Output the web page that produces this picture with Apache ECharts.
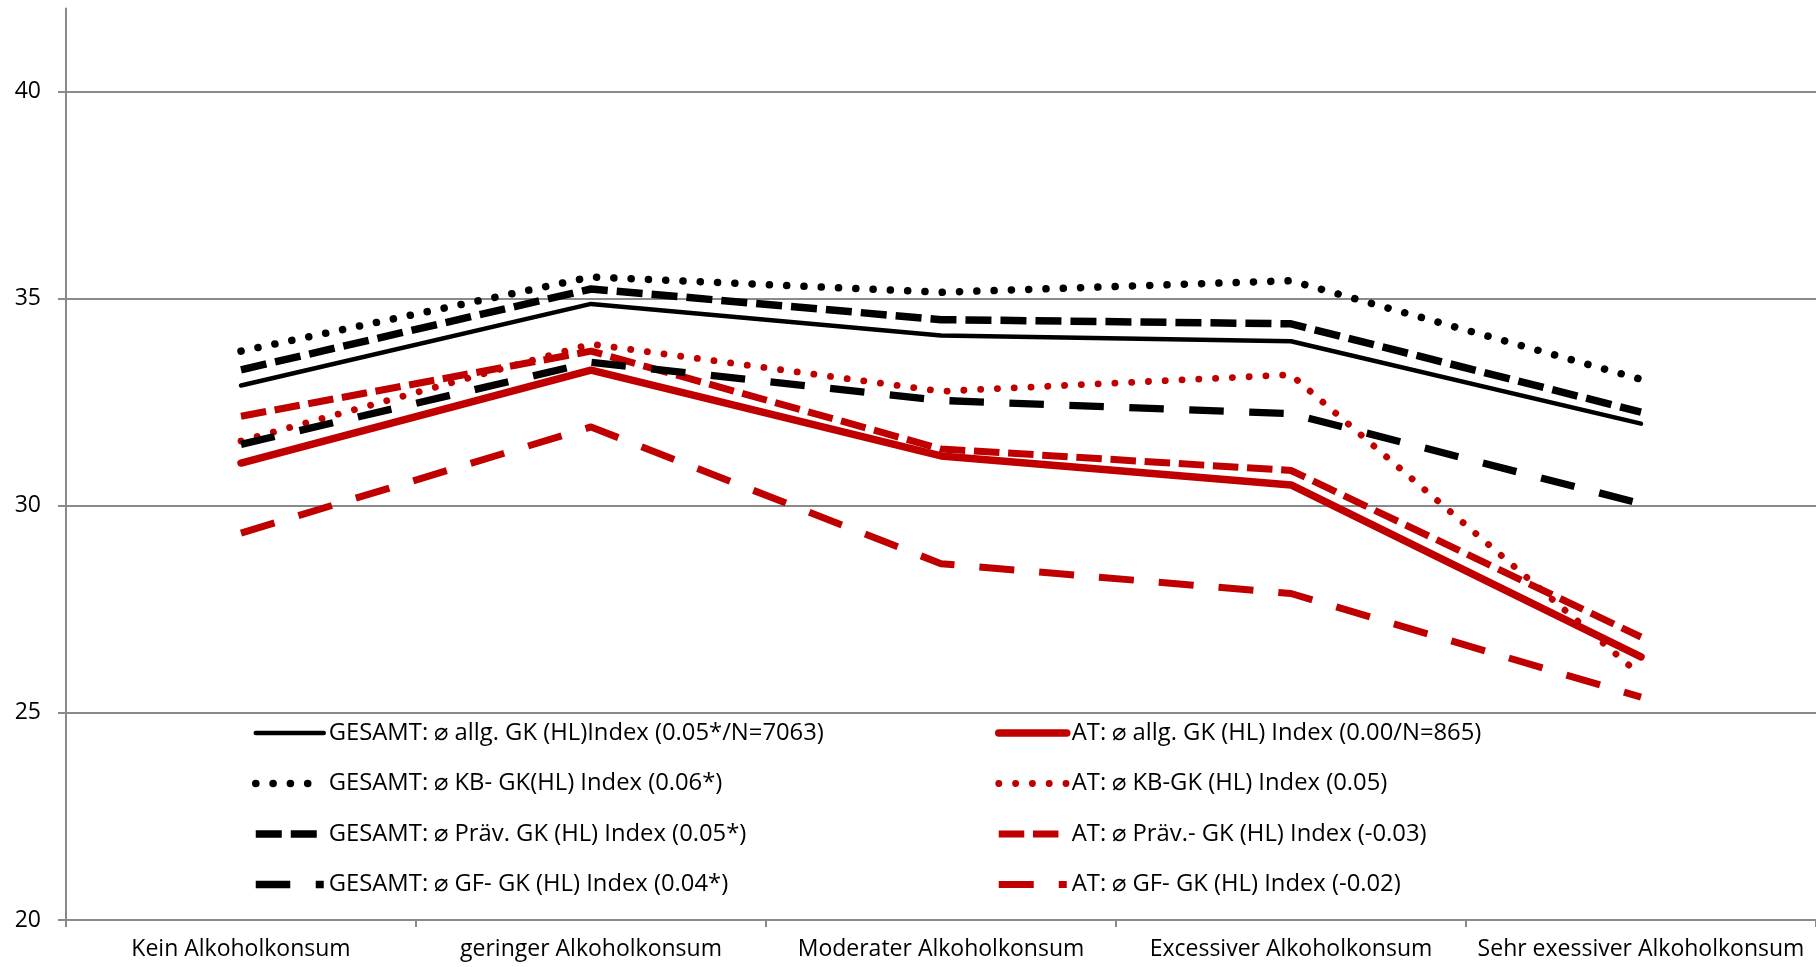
<!DOCTYPE html>
<html>
<head>
<meta charset="utf-8">
<script src="https://cdn.jsdelivr.net/npm/echarts@6.0.0/dist/echarts.min.js"></script>
<style>
html, body { margin: 0; padding: 0; background: #ffffff; }
#chart { width: 1816px; height: 967px; }
</style>
</head>
<body>
<div id="chart"></div>
<script>
// ---- data ----
const categories = ['Kein Alkoholkonsum', 'geringer Alkoholkonsum', 'Moderater Alkoholkonsum', 'Excessiver Alkoholkonsum', 'Sehr exessiver Alkoholkonsum'];

const gesamtAllg = [32.90, 34.87, 34.11, 33.97, 31.98];
const gesamtKB   = [33.73, 35.52, 35.15, 35.43, 33.05];
const gesamtPraev= [33.28, 35.23, 34.49, 34.39, 32.26];
const gesamtGF   = [31.48, 33.46, 32.54, 32.22, 30.05];
const atAllg     = [31.03, 33.27, 31.20, 30.50, 26.35];
const atKB       = [31.56, 33.90, 32.76, 33.16, 25.90];
const atPraev    = [32.16, 33.73, 31.37, 30.85, 26.83];
const atGF       = [29.34, 31.90, 28.60, 27.88, 25.38];

const seriesNames = [
  'GESAMT: \u2300 allg. GK (HL)Index (0.05*/N=7063)',
  'AT: \u2300 allg. GK (HL) Index (0.00/N=865)',
  'GESAMT: \u2300 KB- GK(HL) Index (0.06*)',
  'AT: \u2300 KB-GK (HL) Index (0.05)',
  'GESAMT: \u2300 Pr\u00e4v. GK (HL) Index (0.05*)',
  'AT: \u2300 Pr\u00e4v.- GK (HL) Index (-0.03)',
  'GESAMT: \u2300 GF- GK (HL) Index (0.04*)',
  'AT: \u2300 GF- GK (HL) Index (-0.02)'
];

const yMin = 20;
const yTickMax = 40;
const yAxisMax = 42;
const yInterval = 5;

// ---- styling ----
const BLACK = '#000000';
const RED = '#C00000';
const GRID_GRAY = '#8a8a8a';
const FONT = '"Open Sans", sans-serif';

const seriesData = [gesamtAllg, atAllg, gesamtKB, atKB, gesamtPraev, atPraev, gesamtGF, atGF];
const seriesStyles = [
  { color: BLACK, width: 4.5, type: 'solid', cap: 'round', join: 'round' },
  { color: RED,   width: 7.5, type: 'solid', cap: 'round', join: 'round' },
  { color: BLACK, width: 7.5, type: [0.1, 17.2], cap: 'round', join: 'round' },
  { color: RED,   width: 6.8, type: [0.1, 16.7], cap: 'round', join: 'round' },
  { color: BLACK, width: 7.5, type: [26, 9], cap: 'butt', join: 'round' },
  { color: RED,   width: 7,   type: [25.5, 8.7], cap: 'butt', join: 'round' },
  { color: BLACK, width: 7.3, type: [34.5, 25.5], cap: 'butt', join: 'round' },
  { color: RED,   width: 7,   type: [35, 25], cap: 'butt', join: 'round' }
];

const series = seriesData.map((d, i) => ({
  name: seriesNames[i],
  type: 'line',
  xAxisIndex: 0,
  yAxisIndex: 0,
  data: d,
  symbol: 'none',
  showSymbol: false,
  smooth: false,
  color: seriesStyles[i].color,
  itemStyle: { color: seriesStyles[i].color },
  lineStyle: seriesStyles[i],
  emphasis: { disabled: true },
  animation: false
}));

const legendCommon = {
  orient: 'vertical',
  top: 721,
  padding: 0,
  itemHeight: 24,
  itemGap: 26.5,
  itemWidth: 68,
  selectedMode: false,
  itemStyle: { opacity: 0 },
  lineStyle: { width: 'inherit' },
  textStyle: { fontFamily: FONT, fontSize: 23.8, color: '#000', lineHeight: 24 }
};

const option = {
  animation: false,
  backgroundColor: '#ffffff',
  grid: [
    { left: 66, right: -7, top: 8.5, bottom: 47, containLabel: false },
    { left: 66, right: -7, top: 91.3, bottom: 47, containLabel: false }
  ],
  xAxis: [
    {
      type: 'category', gridIndex: 0, data: categories, boundaryGap: true,
      axisLine: { show: true, lineStyle: { color: GRID_GRAY, width: 2 } },
      axisTick: { show: true, length: 7, lineStyle: { color: GRID_GRAY, width: 2 } },
      axisLabel: { fontFamily: FONT, fontSize: 23, color: '#000', margin: 18, interval: 0 },
      splitLine: { show: false }
    },
    {
      type: 'category', gridIndex: 1, data: categories, boundaryGap: true, show: false
    }
  ],
  yAxis: [
    {
      type: 'value', gridIndex: 0, min: yMin, max: yAxisMax,
      axisLine: { show: true, lineStyle: { color: GRID_GRAY, width: 2 } },
      axisTick: { show: false }, axisLabel: { show: false }, splitLine: { show: false }
    },
    {
      type: 'value', gridIndex: 1, min: yMin, max: yTickMax, interval: yInterval,
      axisLine: { show: false },
      axisTick: { show: true, length: 8, lineStyle: { color: GRID_GRAY, width: 2 } },
      axisLabel: { fontFamily: FONT, fontSize: 23, color: '#000', margin: 25 },
      splitLine: { show: true, lineStyle: { color: GRID_GRAY, width: 2 } }
    }
  ],
  legend: [
    Object.assign({}, legendCommon, { left: 252, data: [seriesNames[0], seriesNames[2], seriesNames[4], seriesNames[6]] }),
    Object.assign({}, legendCommon, { left: 995, data: [seriesNames[1], seriesNames[3], seriesNames[5], seriesNames[7]] })
  ],
  series: series
};

const chart = echarts.init(document.getElementById('chart'), null, { renderer: 'canvas' });
chart.setOption(option);
</script>
</body>
</html>
